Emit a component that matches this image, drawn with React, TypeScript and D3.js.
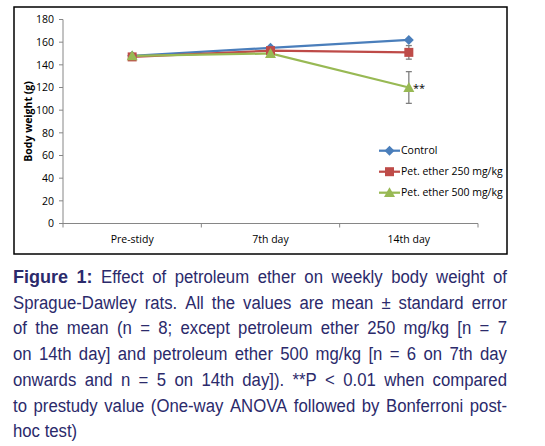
import React from "react";
import * as d3 from "d3";

const categories = ["Pre-stidy", "7th day", "14th day"];
const controlValues = [148, 155, 162];
const pet250Values = [147, 152.5, 151];
const pet500Values = [148, 150, 120];
const pet250Err = [0, 0, 6];
const pet500Err = [0, 0, 14];
const yTicks = [0, 20, 40, 60, 80, 100, 120, 140, 160, 180];
const seriesNames = ["Control", "Pet. ether 250 mg/kg", "Pet. ether 500 mg/kg"];
const seriesColors = ["#4a7ebb", "#be4b48", "#98b954"];

const captionLines: { bold?: string; text: string; justify: boolean }[] = [
  { bold: "Figure 1:", text: "Effect of petroleum ether on weekly body weight of", justify: true },
  { text: "Sprague-Dawley rats. All the values are mean \u00b1 standard error", justify: true },
  { text: "of the mean (n = 8; except petroleum ether 250 mg/kg [n = 7", justify: true },
  { text: "on 14th day] and petroleum ether 500 mg/kg [n = 6 on 7th day", justify: true },
  { text: "onwards and n = 5 on 14th day]). **P < 0.01 when compared", justify: true },
  { text: "to prestudy value (One-way ANOVA followed by Bonferroni post-", justify: true },
  { text: "hoc test)", justify: false },
];

const CAP_FONT = "'Liberation Sans', Arial, sans-serif";
const CAP_SIZE = 18;
const CAP_SQUEEZE = 0.93;
const CHART_FONT = "'Open Sans', 'Liberation Sans', sans-serif";

let ctx: CanvasRenderingContext2D | null = null;
function measure(s: string, bold: boolean) {
  if (!ctx) ctx = document.createElement("canvas").getContext("2d");
  if (!ctx) return s.length * 8;
  ctx.font = `${bold ? "bold " : ""}${CAP_SIZE}px ${CAP_FONT}`;
  return ctx.measureText(s).width;
}

export default function App() {
  const W = 545, H = 446;
  const m = { left: 63, right: 478, top: 19.5, bottom: 223.5 };
  const x = d3.scaleBand().domain(categories).range([m.left, m.right]);
  const y = d3.scaleLinear().domain([0, 180]).range([m.bottom, m.top]);
  const cx = (c: string) => (x(c) ?? 0) + x.bandwidth() / 2;

  const series = [controlValues, pet250Values, pet500Values];
  const errs = [[0, 0, 0], pet250Err, pet500Err];
  const line = d3.line<number>().x((_, i) => cx(categories[i])).y((v) => y(v));

  const marker = (k: number, px: number, py: number, key: string) => {
    const col = seriesColors[k];
    if (k === 0) {
      const s = 5;
      return <path key={key} d={`M${px},${py - s}L${px + s},${py}L${px},${py + s}L${px - s},${py}Z`} fill={col} />;
    }
    if (k === 1) {
      return <rect key={key} x={px - 4.5} y={py - 4.5} width={9} height={9} fill={col} />;
    }
    const s = 5.5;
    return <path key={key} d={`M${px},${py - s}L${px + s},${py + s * 0.8}L${px - s},${py + s * 0.8}Z`} fill={col} />;
  };

  // caption layout (justified)
  const capLeft = 13, capRight = 507, capTop = 283, capLH = 25.7;
  const captionEls: React.ReactNode[] = [];
  captionLines.forEach((ln, li) => {
    const words: { w: string; bold: boolean }[] = [];
    if (ln.bold) ln.bold.split(" ").forEach((w) => words.push({ w, bold: true }));
    ln.text.split(" ").forEach((w) => words.push({ w, bold: false }));
    const widths = words.map((o) => measure(o.w, o.bold) * (o.bold ? 1 : CAP_SQUEEZE));
    const total = widths.reduce((a, b) => a + b, 0);
    const gaps = words.length - 1;
    const space = ln.justify && gaps > 0 ? (capRight - capLeft - total) / gaps : measure(" ", false) * CAP_SQUEEZE;
    let px = capLeft;
    const by = capTop + li * capLH;
    words.forEach((o, wi) => {
      captionEls.push(
        <text key={`c${li}-${wi}`} x={px} y={by} fontFamily={CAP_FONT} fontSize={CAP_SIZE}
          fontWeight={o.bold ? "bold" : "normal"} fill="#2b2a6b"
          textLength={widths[wi]} lengthAdjust="spacingAndGlyphs">{o.w}</text>
      );
      px += widths[wi] + space;
    });
  });

  return (
    <svg width={W} height={H} style={{ position: "absolute", left: 0, top: 0 }}>
      <rect x={0} y={0} width={W} height={H} fill="#fff" />
      <rect x={14} y={7} width={493} height={247} fill="#fff" stroke="#000" strokeWidth={1.5} />
      {/* y axis */}
      <line x1={m.left} x2={m.left} y1={m.top} y2={m.bottom} stroke="#868686" />
      {yTicks.map((t) => (
        <g key={`yt${t}`}>
          <line x1={m.left - 4} x2={m.left} y1={y(t)} y2={y(t)} stroke="#868686" />
          <text x={m.left - 9} y={y(t)} dy="0.35em" textAnchor="end" fontFamily={CHART_FONT} fontSize={10.5} fill="#000">{t}</text>
        </g>
      ))}
      {/* x axis */}
      <line x1={m.left} x2={m.right} y1={m.bottom} y2={m.bottom} stroke="#868686" />
      {[...categories.map((c) => x(c) ?? 0), m.right].map((v, i) => (
        <line key={`xt${i}`} x1={v} x2={v} y1={m.bottom} y2={m.bottom + 4} stroke="#868686" />
      ))}
      {categories.map((c) => (
        <text key={`xl${c}`} x={cx(c)} y={239} dy="0.35em" textAnchor="middle" fontFamily={CHART_FONT} fontSize={10.5}>{c}</text>
      ))}
      <text transform={`translate(28,${(m.top + m.bottom) / 2}) rotate(-90)`} textAnchor="middle" dy="0.35em"
        fontFamily={CHART_FONT} fontSize={10.5} fontWeight="bold">Body weight (g)</text>
      {/* error bars */}
      {errs.map((e, k) => e.map((ev, i) => ev > 0 ? (
        <g key={`e${k}-${i}`} stroke="#7f7f7f" strokeWidth={1.3}>
          <line x1={cx(categories[i])} x2={cx(categories[i])} y1={y(series[k][i] + ev)} y2={y(series[k][i] - ev)} />
          <line x1={cx(categories[i]) - 3} x2={cx(categories[i]) + 3} y1={y(series[k][i] + ev)} y2={y(series[k][i] + ev)} />
          <line x1={cx(categories[i]) - 3} x2={cx(categories[i]) + 3} y1={y(series[k][i] - ev)} y2={y(series[k][i] - ev)} />
        </g>
      ) : null))}
      {/* lines */}
      {series.map((s, k) => (
        <path key={`l${k}`} d={line(s) ?? ""} fill="none" stroke={seriesColors[k]} strokeWidth={2.25} />
      ))}
      {series.map((s, k) => s.map((v, i) => marker(k, cx(categories[i]), y(v), `m${k}-${i}`)))}
      <text x={413} y={y(pet500Values[2])} dy="0.45em" fontFamily={CHART_FONT} fontSize={11}>**</text>
      {/* legend */}
      {seriesNames.map((n, k) => {
        const ly = 150.7 + k * 21;
        return (
          <g key={`lg${k}`}>
            <line x1={379} x2={400} y1={ly} y2={ly} stroke={seriesColors[k]} strokeWidth={2.25} />
            {marker(k, 389.5, ly, `lm${k}`)}
            <text x={401} y={ly} dy="0.35em" fontFamily={CHART_FONT} fontSize={10.5}>{n}</text>
          </g>
        );
      })}
      {captionEls}
    </svg>
  );
}
